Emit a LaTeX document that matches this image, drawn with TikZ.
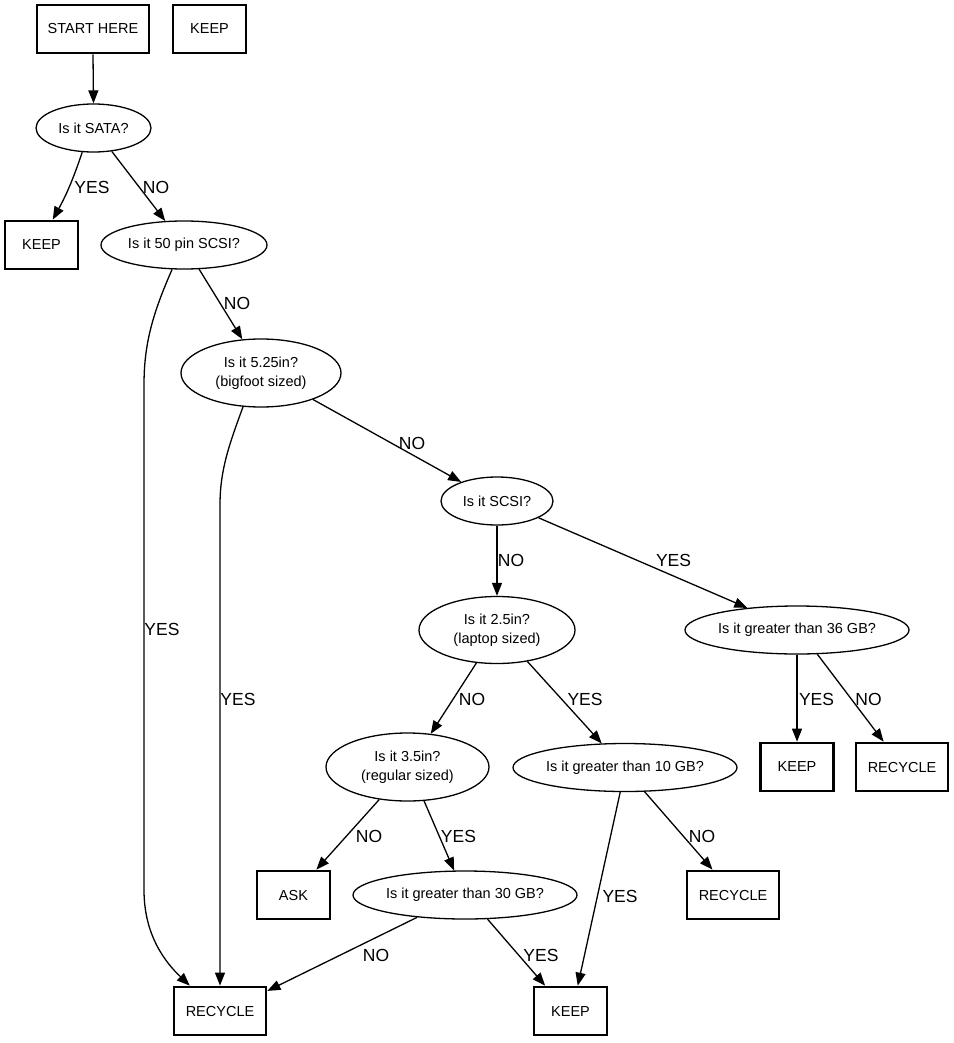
\documentclass[tikz,border=0pt]{standalone}
\usepackage{fontspec}
\setmainfont{Liberation Sans}
\usetikzlibrary{arrows.meta,shapes.geometric}
\tikzset{
  box/.style={draw, line width=2.7pt, rectangle, minimum width=#1, minimum height=48pt, inner sep=0pt, font=\fontsize{14.5}{19}\selectfont},
  box/.default=73pt,
  q/.style n args={2}{draw, line width=1.3pt, ellipse, minimum width=#1, minimum height=#2, inner sep=0pt, align=center, font=\fontsize{14.5}{19}\selectfont},
  edge/.style={line width=1.3pt, -{Triangle[length=13pt,width=10pt]}},
  lbl/.style={font=\fontsize{17.5}{20}\selectfont, inner sep=0pt}
}
\begin{document}
\begin{tikzpicture}[x=1pt,y=-1pt]
\useasboundingbox (0,0) rectangle (953,1043);
% nodes
\node[box=112pt] (start) at (93,29) {START HERE};
\node[box] (keepT) at (209.5,29) {KEEP};
\node[q={115pt}{48pt}] (sata) at (93.5,128) {Is it SATA?};
\node[box] (keepA) at (41.5,245) {KEEP};
\node[q={166pt}{48pt}] (pin50) at (184,245) {Is it 50 pin SCSI?};
\node[q={160pt}{68pt}] (big) at (261,373) {Is it 5.25in?\\(bigfoot sized)};
\node[q={112pt}{48pt}] (scsi) at (497,501) {Is it SCSI?};
\node[q={156pt}{67pt}] (lap) at (497,630) {Is it 2.5in?\\(laptop sized)};
\node[q={224pt}{48pt}] (g36) at (797,630) {Is it greater than 36 GB?};
\node[q={163pt}{68pt}] (reg) at (407.5,767) {Is it 3.5in?\\(regular sized)};
\node[q={224pt}{48pt}] (g10) at (625,767.5) {Is it greater than 10 GB?};
\node[box] (keepB) at (797,767) {KEEP};
\node[box=92pt] (recB) at (902,767) {RECYCLE};
\node[box] (ask) at (293.5,895) {ASK};
\node[q={224pt}{48pt}] (g30) at (465,895) {Is it greater than 30 GB?};
\node[box=92pt] (recC) at (733,895) {RECYCLE};
\node[box=92pt] (recD) at (220,1011) {RECYCLE};
\node[box] (keepD) at (570.5,1011) {KEEP};
% edges
\draw[edge] (start.south) -- (sata.north);
\draw[edge] (sata.-115.6) to[bend left=5] (keepA.66.4) node[lbl] at (92,187) {YES};
\draw[edge] (sata.-52.4) -- (pin50.128.4) node[lbl] at (156,187) {NO};
\draw[edge] (pin50.-58) -- (big.119.9) node[lbl] at (237,303) {NO};
\draw[edge] (pin50.-116.6) .. controls (152,315) and (144,345) .. (144,385) -- (144,890) .. controls (144,935) and (165,962) .. (recD.140.4) node[lbl] at (162,629) {YES};
\draw[edge] (big.-118.6) .. controls (229,445) and (220,470) .. (220,505) -- (recD.north) node[lbl] at (238,699) {YES};
\draw[edge] (big.-27.9) -- (scsi.152.1) node[lbl] at (412,443) {NO};
\draw[edge] (scsi.south) -- (lap.north) node[lbl] at (511,560) {NO};
\draw[edge] (scsi.-22.7) -- (g36.156.3) node[lbl] at (673.5,560) {YES};
\draw[edge] (lap.-122.5) -- (reg.55.7) node[lbl] at (472,699) {NO};
\draw[edge] (lap.-46.8) -- (g10.134.4) node[lbl] at (585,699) {YES};
\draw[edge] (g36.south) -- (keepB.north) node[lbl] at (816.5,699) {YES};
\draw[edge] (g36.-50.4) -- (recB.126.9) node[lbl] at (868.5,699) {NO};
\draw[edge] (reg.-131.8) -- (ask.48.1) node[lbl] at (369,836) {NO};
\draw[edge] (reg.-64.8) -- (g30.114.6) node[lbl] at (458.5,836) {YES};
\draw[edge] (g10.-101.8) -- (keepD.74.8) node[lbl] at (620,896) {YES};
\draw[edge] (g10.-51) -- (recC.129.8) node[lbl] at (702,836) {NO};
\draw[edge] (g30.-155.1) -- (recD.23.5) node[lbl] at (376,955) {NO};
\draw[edge] (g30.-47.6) -- (keepD.135) node[lbl] at (541,955) {YES};
\end{tikzpicture}
\end{document}
